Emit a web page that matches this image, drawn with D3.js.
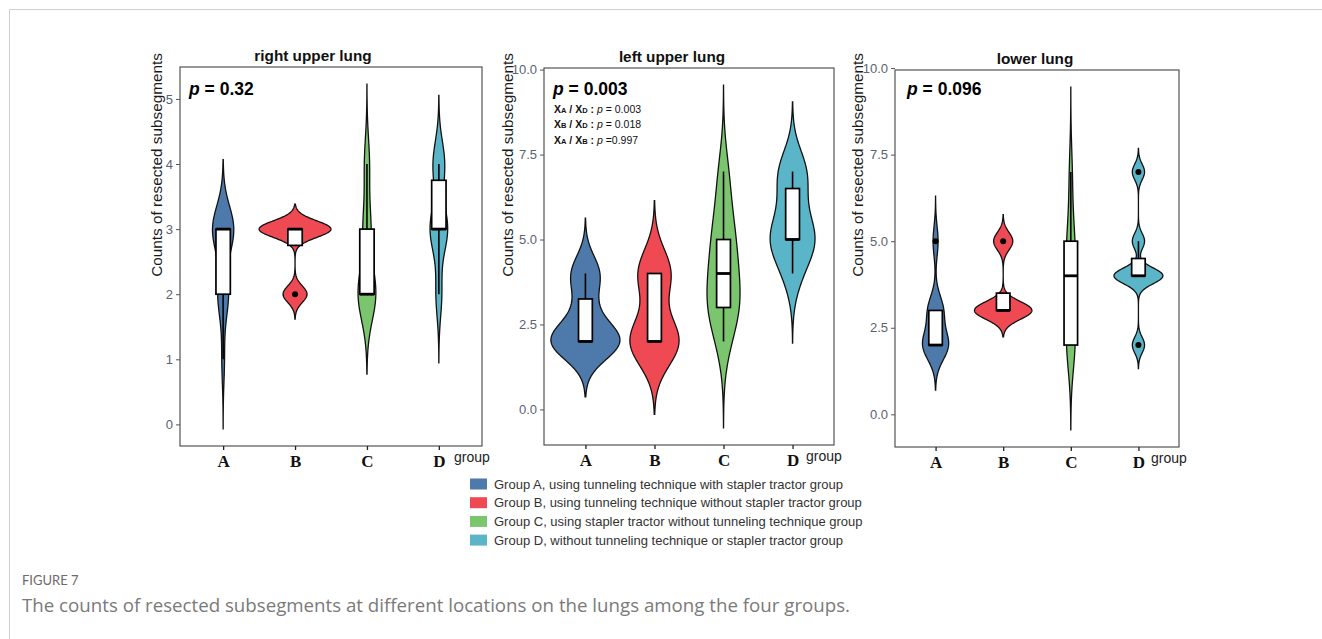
<!DOCTYPE html>
<html>
<head>
<meta charset="utf-8">
<script src="https://cdn.jsdelivr.net/npm/d3@7"></script>
<style>
  body { margin: 0; background: #fff; }
  svg { display: block; }
</style>
</head>
<body>
<div id="figure"></div>
<script>
// Define constants
const WIDTH = 1322;
const HEIGHT = 639;
const SANS = "'Liberation Sans', Arial, sans-serif";

// Data: subsegment counts per patient, read back from box stats and violin shapes
const GROUPS = ["A", "B", "C", "D"];
const GROUP_COLORS = ["#4e7aab", "#ef4a54", "#7bc56f", "#5ab5c9"];
const LEGEND_TEXT = [
  "Group A, using tunneling technique with stapler tractor group",
  "Group B, using tunneling technique without stapler tractor group",
  "Group C, using stapler tractor without tunneling technique group",
  "Group D, without tunneling technique or stapler tractor group"
];
const PANEL_TITLES = ["right upper lung", "left upper lung", "lower lung"];
const P_OVERALL = ["0.32", "0.003", "0.096"];
const PAIR_LEFT = ["A", "B", "A"];
const PAIR_RIGHT = ["D", "D", "B"];
const PAIR_P = ["= 0.003", "= 0.018", "=0.997"];

const RIGHT_UPPER = [
  [1, 2, 2, 2, 2, 3, 3, 3, 3, 3, 3, 3, 3],
  [2, 3, 3, 3],
  [2, 2, 2, 2, 2, 2, 2, 3, 3, 3, 4, 4],
  [2, 3, 3, 3, 4, 4]
];
const LEFT_UPPER = [
  [2, 2, 2, 2, 2, 3, 4, 4],
  [2, 2, 2, 4, 4],
  [2, 3, 3, 3, 4, 4, 5, 5, 6, 7],
  [4, 5, 5, 5, 6, 7, 7]
];
const LOWER = [
  [2, 2, 2, 2, 2, 3, 3, 3, 5],
  [3, 3, 3, 5],
  [2, 2, 2, 2, 2, 2, 3, 3, 4, 4, 4, 4, 4, 5, 5, 5, 5, 6, 7, 7],
  [2, 4, 4, 4, 4, 5, 7]
];
const Y_TICKS_RUL = [0, 1, 2, 3, 4, 5];
const Y_TICKS_10 = [0, 2.5, 5, 7.5, 10];

// Layout of the three panels
const PANELS = [
  { data: RIGHT_UPPER, ticks: Y_TICKS_RUL, fmt: d3.format("d"), left: 180, right: 482, top: 67, bottom: 446, titleX: 313, labelX: 157, vw: 1.0 },
  { data: LEFT_UPPER, ticks: Y_TICKS_10, fmt: d3.format(".1f"), left: 544, right: 834, top: 68, bottom: 445, titleX: 672, labelX: 508, vw: 1.0 },
  { data: LOWER, ticks: Y_TICKS_10, fmt: d3.format(".1f"), left: 895, right: 1179, top: 70, bottom: 447, titleX: 1035, labelX: 858, vw: 0.85 }
];

// Kernel density helpers (gaussian kernel, R's bw.nrd0)
function bwNrd0(values) {
  const sd = d3.deviation(values);
  const iqr = d3.quantile(values, 0.75) - d3.quantile(values, 0.25);
  return 0.9 * Math.min(sd, iqr / 1.34) * Math.pow(values.length, -0.2);
}

function kde(values) {
  const bw = bwNrd0(values);
  const lo = d3.min(values) - 3 * bw;
  const hi = d3.max(values) + 3 * bw;
  const grid = d3.range(0, 201).map(i => lo + (hi - lo) * i / 200);
  const k = u => Math.exp(-0.5 * u * u) / Math.sqrt(2 * Math.PI);
  return grid.map(y => [y, d3.mean(values, v => k((y - v) / bw)) / bw]);
}

function boxStats(values) {
  const sorted = values.slice().sort(d3.ascending);
  const q1 = d3.quantileSorted(sorted, 0.25);
  const med = d3.quantileSorted(sorted, 0.5);
  const q3 = d3.quantileSorted(sorted, 0.75);
  const iqr = q3 - q1;
  const inside = sorted.filter(v => v >= q1 - 1.5 * iqr && v <= q3 + 1.5 * iqr);
  return {
    q1, med, q3,
    lo: d3.min(inside), hi: d3.max(inside),
    outliers: sorted.filter(v => v < q1 - 1.5 * iqr || v > q3 + 1.5 * iqr)
  };
}

const svg = d3.select("#figure")
  .append("svg")
  .attr("width", WIDTH)
  .attr("height", HEIGHT);

// Card frame
svg.append("path")
  .attr("d", `M9.5,${HEIGHT} V9.5 H${WIDTH}`)
  .attr("fill", "none")
  .attr("stroke", "#cfcfcf");

function drawPanel(p, idx) {
  const g = svg.append("g");
  const dens = p.data.map(kde);
  const maxD = d3.max(dens, d => d3.max(d, e => e[1]));
  const lo = d3.min(dens, d => d[0][0]);
  const hi = d3.max(dens, d => d[d.length - 1][0]);
  const pad = (hi - lo) * 0.05;

  const x = d3.scalePoint().domain(GROUPS).range([p.left, p.right]).padding(0.6);
  const y = d3.scaleLinear().domain([lo - pad, hi + pad]).range([p.bottom, p.top]);
  const step = x.step();

  // Violins
  dens.forEach((d, i) => {
    const cx = x(GROUPS[i]);
    const w = v => v / maxD * p.vw * step / 2;
    const area = d3.area()
      .y(e => y(e[0]))
      .x0(e => cx - w(e[1]))
      .x1(e => cx + w(e[1]));
    g.append("path")
      .attr("d", area(d))
      .attr("fill", GROUP_COLORS[i])
      .attr("stroke", "#111")
      .attr("stroke-width", 1.3);
  });

  // Box plots
  p.data.forEach((vals, i) => {
    const s = boxStats(vals);
    const cx = x(GROUPS[i]);
    const bw = step * 0.2;
    g.append("line").attr("x1", cx).attr("x2", cx)
      .attr("y1", y(s.q3)).attr("y2", y(s.hi))
      .attr("stroke", "#000").attr("stroke-width", 1.6);
    g.append("line").attr("x1", cx).attr("x2", cx)
      .attr("y1", y(s.q1)).attr("y2", y(s.lo))
      .attr("stroke", "#000").attr("stroke-width", 1.6);
    g.append("rect")
      .attr("x", cx - bw / 2).attr("width", bw)
      .attr("y", y(s.q3)).attr("height", y(s.q1) - y(s.q3))
      .attr("fill", "#fff").attr("stroke", "#000").attr("stroke-width", 1.7);
    g.append("line")
      .attr("x1", cx - bw / 2).attr("x2", cx + bw / 2)
      .attr("y1", y(s.med)).attr("y2", y(s.med))
      .attr("stroke", "#000").attr("stroke-width", 2.8);
    g.selectAll(null).data(s.outliers).enter().append("circle")
      .attr("cx", cx).attr("cy", v => y(v)).attr("r", 3)
      .attr("fill", "#000");
  });

  // Panel border
  g.append("rect")
    .attr("x", p.left).attr("y", p.top)
    .attr("width", p.right - p.left).attr("height", p.bottom - p.top)
    .attr("fill", "none").attr("stroke", "#444").attr("stroke-width", 1.1);

  // Y axis
  const yAxis = g.append("g")
    .attr("transform", `translate(${p.left},0)`)
    .call(d3.axisLeft(y).tickValues(p.ticks).tickFormat(p.fmt).tickSize(4).tickPadding(3));
  yAxis.select(".domain").remove();
  yAxis.selectAll("line").attr("stroke", "#555");
  yAxis.selectAll("text").attr("fill", "#5a6272").style("font", `13px ${SANS}`);

  // X axis
  const xAxis = g.append("g")
    .attr("transform", `translate(0,${p.bottom})`)
    .call(d3.axisBottom(x).tickSize(4).tickPadding(5));
  xAxis.select(".domain").remove();
  xAxis.selectAll("line").attr("stroke", "#222").attr("stroke-width", 1.3);
  xAxis.selectAll("text")
    .attr("fill", "#111")
    .style("font", `bold 17px 'Liberation Serif', 'Times New Roman', serif`);

  g.append("text")
    .attr("x", p.right - 28).attr("y", p.bottom + 16)
    .style("font", `14px ${SANS}`).attr("fill", "#222")
    .text("group");

  // Titles and labels
  g.append("text")
    .attr("x", p.titleX).attr("y", p.top - 6)
    .attr("text-anchor", "middle")
    .style("font", `bold 15.3px ${SANS}`).attr("fill", "#111")
    .text(PANEL_TITLES[idx]);

  g.append("text")
    .attr("transform", `translate(${p.labelX},165) rotate(-90)`)
    .attr("text-anchor", "middle")
    .attr("dy", "0.35em")
    .style("font", `15.3px ${SANS}`).attr("fill", "#1a1a1a")
    .text("Counts of resected subsegments");

  const pt = g.append("text")
    .attr("x", p.left + (idx === 2 ? 12 : 9)).attr("y", 95)
    .style("font", `bold 17.5px ${SANS}`).attr("fill", "#000");
  pt.append("tspan").style("font-style", "italic").text("p");
  pt.append("tspan").text(` = ${P_OVERALL[idx]}`);

  if (idx === 1) {
    PAIR_P.forEach((pv, j) => {
      const t = g.append("text")
        .attr("x", p.left + 10).attr("y", 112.5 + j * 15.7)
        .style("font", `10.5px ${SANS}`).attr("fill", "#111");
      t.append("tspan").style("font-weight", "bold").text("X");
      t.append("tspan").style("font-weight", "bold").style("font-size", "7.5px").text(PAIR_LEFT[j]);
      t.append("tspan").style("font-weight", "bold").text(" / X");
      t.append("tspan").style("font-weight", "bold").style("font-size", "7.5px").text(PAIR_RIGHT[j]);
      t.append("tspan").style("font-weight", "bold").text(" : ");
      t.append("tspan").style("font-style", "italic").text("p");
      t.append("tspan").text(" " + pv);
    });
  }
}

PANELS.forEach(drawPanel);

// Legend
const legend = svg.append("g").attr("transform", "translate(470,484)");
LEGEND_TEXT.forEach((txt, i) => {
  const row = legend.append("g").attr("transform", `translate(0,${i * 18.7})`);
  row.append("rect")
    .attr("x", 0).attr("y", -5.5).attr("width", 17).attr("height", 11)
    .attr("fill", GROUP_COLORS[i]);
  row.append("text")
    .attr("x", 24).attr("dy", "0.35em")
    .style("font", `13px ${SANS}`).attr("fill", "#333")
    .text(txt);
});

// Caption
svg.append("text")
  .attr("x", 22).attr("y", 585)
  .style("font", "13px Lato, 'Open Sans', sans-serif").attr("fill", "#6b6b6b")
  .text("FIGURE 7");
svg.append("text")
  .attr("x", 22).attr("y", 612)
  .style("font", "18.7px 'Open Sans', Lato, sans-serif").attr("fill", "#7a7a7a")
  .text("The counts of resected subsegments at different locations on the lungs among the four groups.");
</script>
</body>
</html>
